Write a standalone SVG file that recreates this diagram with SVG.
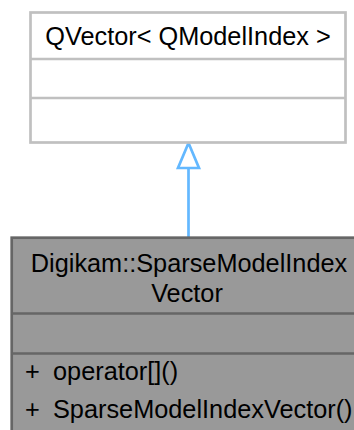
<svg xmlns="http://www.w3.org/2000/svg" width="354" height="430" viewBox="0 0 354 430">
<style>
text { font-family: "Liberation Sans", Arial, sans-serif; font-size: 25.3px; fill: #000; }
.c { text-anchor: middle; }
.base { fill: #ffffff; stroke: #c0c0c0; stroke-width: 2.7; }
.cls { fill: #999999; stroke: #666666; stroke-width: 2.7; }
.edge { stroke: #63b8ff; stroke-width: 2.7; fill: none; }
.head { stroke: #63b8ff; stroke-width: 2.7; fill: #ffffff; }
</style>
<rect width="354" height="430" fill="#ffffff"/>
<g id="connectors">
<path class="edge" d="M188.5,237 L188.5,168"/>
<polygon class="head" points="188.5,143 178,168 199,168"/>
</g>
<g id="node-qvector">
<rect class="base" x="30.5" y="12.5" width="315" height="130"/>
<line class="base" x1="30.5" y1="59" x2="345.5" y2="59"/>
<line class="base" x1="30.5" y1="98" x2="345.5" y2="98"/>
<text class="c" x="188" y="45">QVector&lt; QModelIndex &gt;</text>
</g>
<g id="node-sparse">
<rect class="cls" x="11.7" y="237.7" width="360" height="210"/>
<line class="cls" x1="11.7" y1="313.5" x2="371.7" y2="313.5"/>
<line class="cls" x1="11.7" y1="353.5" x2="371.7" y2="353.5"/>
<text class="c" x="189" y="272">Digikam::SparseModelIndex</text>
<text class="c" x="187" y="301.5">Vector</text>
<text x="25" y="380">+</text>
<text x="53" y="380">operator[]()</text>
<text x="25" y="418">+</text>
<text x="53" y="418">SparseModelIndexVector()</text>
</g>
</svg>
